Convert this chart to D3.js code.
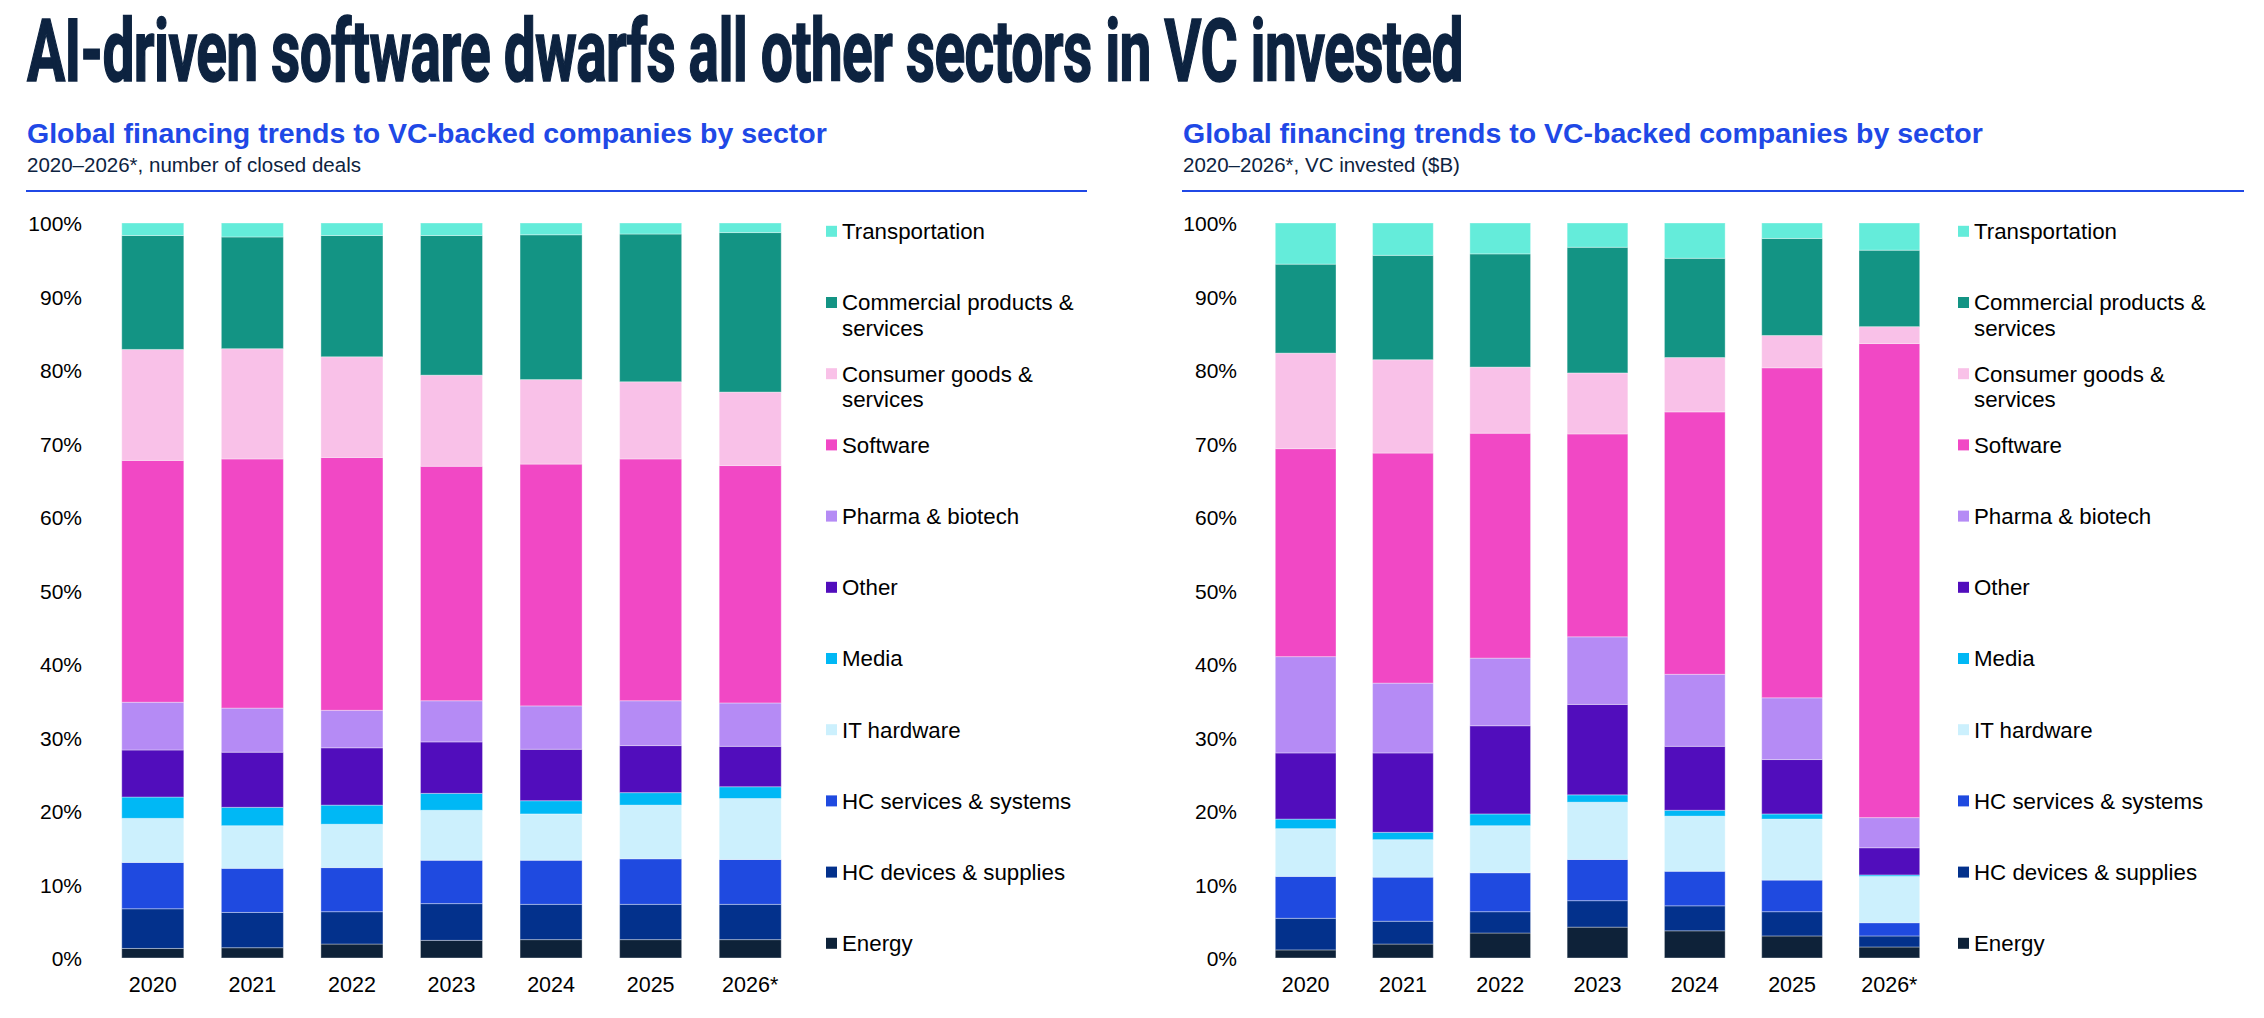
<!DOCTYPE html>
<html>
<head>
<meta charset="utf-8">
<script src="https://cdn.jsdelivr.net/npm/d3@7"></script>
<style>
  html, body { margin: 0; padding: 0; background: #fff; }
  svg { display: block; }
</style>
</head>
<body>
<svg id="chart" width="2264" height="1018"></svg>
<script>
// ---------- DATA ----------
const years = ["2020", "2021", "2022", "2023", "2024", "2025", "2026*"];
// stacking order: bottom -> top
const sectors = ["Energy", "HC devices & supplies", "HC services & systems", "IT hardware", "Media", "Other",
  "Pharma & biotech", "Software", "Consumer goods & services", "Commercial products & services", "Transportation"];
const sectorColors = ["#0e2239", "#03318c", "#1f4ae0", "#ccf0fd", "#00b8f5", "#510dbc",
  "#b58bf5", "#f148c5", "#f9c1e8", "#139484", "#64ecda"];
// legend labels, top -> bottom, split into lines
const legendLabels = [["Transportation"], ["Commercial products &", "services"], ["Consumer goods &", "services"],
  ["Software"], ["Pharma & biotech"], ["Other"], ["Media"], ["IT hardware"], ["HC services & systems"],
  ["HC devices & supplies"], ["Energy"]];
const yTicks = [0, 10, 20, 30, 40, 50, 60, 70, 80, 90, 100];

// Left chart: share of number of closed deals (%)
const dealsEnergy       = [1.3, 1.4, 1.9, 2.4, 2.5, 2.5, 2.5];
const dealsHCDevices    = [5.4, 4.8, 4.4, 5.0, 4.8, 4.8, 4.8];
const dealsHCServices   = [6.3, 6.0, 6.0, 5.9, 6.0, 6.2, 6.1];
const dealsITHardware   = [6.0, 5.8, 5.9, 6.8, 6.3, 7.3, 8.3];
const dealsMedia        = [2.9, 2.5, 2.6, 2.3, 1.8, 1.7, 1.6];
const dealsOther        = [6.4, 7.5, 7.8, 7.0, 7.0, 6.4, 5.5];
const dealsPharma       = [6.5, 6.0, 5.1, 5.6, 5.9, 6.1, 5.9];
const dealsSoftware     = [32.9, 33.9, 34.4, 31.9, 32.9, 32.9, 32.3];
const dealsConsumer     = [15.1, 15.0, 13.7, 12.4, 11.5, 10.5, 10.0];
const dealsCommercial   = [15.5, 15.2, 16.5, 19.0, 19.7, 20.1, 21.7];
const dealsTransport    = [1.7, 1.9, 1.7, 1.7, 1.6, 1.5, 1.3];

// Right chart: share of VC invested ($B) (%)
const vcEnergy          = [1.1, 1.9, 3.4, 4.2, 3.7, 3.0, 1.5];
const vcHCDevices       = [4.3, 3.1, 2.9, 3.6, 3.4, 3.3, 1.5];
const vcHCServices      = [5.7, 6.0, 5.3, 5.6, 4.7, 4.3, 1.8];
const vcITHardware      = [6.5, 5.1, 6.4, 7.8, 7.5, 8.3, 6.3];
const vcMedia           = [1.3, 1.0, 1.6, 1.0, 0.8, 0.7, 0.2];
const vcOther           = [9.0, 10.8, 12.0, 12.3, 8.7, 7.4, 3.7];
const vcPharma          = [13.1, 9.5, 9.2, 9.2, 9.8, 8.4, 4.1];
const vcSoftware        = [28.3, 31.3, 30.6, 27.6, 35.7, 44.9, 64.5];
const vcConsumer        = [13.0, 12.7, 9.0, 8.3, 7.4, 4.4, 2.3];
const vcCommercial      = [12.1, 14.2, 15.4, 17.1, 13.5, 13.2, 10.4];
const vcTransport       = [5.6, 4.4, 4.2, 3.3, 4.8, 2.1, 3.7];

const dealsSeries = [dealsEnergy, dealsHCDevices, dealsHCServices, dealsITHardware, dealsMedia, dealsOther,
  dealsPharma, dealsSoftware, dealsConsumer, dealsCommercial, dealsTransport];
const vcSeries = [vcEnergy, vcHCDevices, vcHCServices, vcITHardware, vcMedia, vcOther,
  vcPharma, vcSoftware, vcConsumer, vcCommercial, vcTransport];

// ---------- DRAW ----------
const svg = d3.select("#chart");
const navy = "#0d2340";
const blue = "#2048e6";

// Title: condensed heavy look, scaled horizontally to match the reference width
const titleG = svg.append("g");
const title = titleG.append("text")
  .attr("x", 0).attr("y", 0)
  .style("font-family", "'Liberation Sans Narrow', 'Roboto', 'Liberation Sans', sans-serif")
  .style("font-weight", 700).style("font-size", "87px").style("fill", navy)
  .style("stroke", navy).style("stroke-width", "1.6px").style("letter-spacing", "-1px")
  .text("AI-driven software dwarfs all other sectors in VC invested");
const natW = title.node().getComputedTextLength();
const targetW = 1436;
titleG.attr("transform", `translate(27,81) scale(${targetW / natW},1)`);

function buildTable(series) {
  return years.map((yr, i) => {
    const row = { year: yr };
    sectors.forEach((s, k) => { row[s] = series[k][i]; });
    return row;
  });
}

function drawPanel(opts) {
  const g = svg.append("g");
  // headings
  g.append("text").attr("x", opts.headX).attr("y", 143)
    .style("font-family", "'Liberation Sans', Arial, sans-serif").style("font-weight", 700)
    .style("font-size", "28.5px").style("fill", blue)
    .text("Global financing trends to VC-backed companies by sector");
  g.append("text").attr("x", opts.headX).attr("y", 171.5)
    .style("font-family", "'Liberation Sans', Arial, sans-serif")
    .style("font-size", "20.5px").style("fill", navy)
    .text(opts.sub);
  g.append("line").attr("x1", opts.lineX1).attr("x2", opts.lineX2)
    .attr("y1", 191).attr("y2", 191).attr("stroke", blue).attr("stroke-width", 2.2);

  const y = d3.scaleLinear().domain([0, 100]).range([958, 223]);
  const x = d3.scaleBand().domain(years).range(opts.xRange).paddingInner(opts.pad).paddingOuter(opts.pad / 2);

  const table = buildTable(opts.series);
  const stack = d3.stack().keys(sectors)(table);
  const color = d3.scaleOrdinal().domain(sectors).range(sectorColors);

  g.append("g").selectAll("g").data(stack).join("g")
    .attr("fill", d => color(d.key))
    .selectAll("rect").data(d => d).join("rect")
    .attr("x", d => x(d.data.year))
    .attr("width", x.bandwidth())
    .attr("y", d => y(d[1]))
    .attr("height", d => Math.max(0, y(d[0]) - y(d[1])))
    .attr("stroke", "rgba(255,255,255,0.35)").attr("stroke-width", 1);

  // y axis (labels only)
  const yAxis = d3.axisLeft(y).tickValues(yTicks).tickFormat(d => d + "%").tickSize(0).tickPadding(0);
  const ya = g.append("g").attr("transform", `translate(${opts.yLabelX},0)`).call(yAxis);
  ya.select(".domain").remove();
  ya.selectAll("text")
    .style("font-family", "'Liberation Sans', Arial, sans-serif").style("font-size", "21px")
    .style("fill", "#000").attr("dy", "0.36em");

  // x axis (labels only)
  const xAxis = d3.axisBottom(x).tickSize(0).tickPadding(0);
  const xa = g.append("g").attr("transform", "translate(0,977)").call(xAxis);
  xa.select(".domain").remove();
  xa.selectAll("text")
    .style("font-family", "'Liberation Sans', Arial, sans-serif").style("font-size", "21.5px")
    .style("fill", "#000").attr("dy", "0.71em");

  // legend
  const legendColors = sectorColors.slice().reverse();
  const lg = g.append("g").selectAll("g").data(legendLabels).join("g")
    .attr("transform", (d, i) => `translate(${opts.legendX},${231.3 + i * 71.2})`);
  lg.append("rect").attr("x", 0).attr("y", -5.5).attr("width", 11).attr("height", 11)
    .attr("fill", (d, i) => legendColors[i]);
  lg.each(function (d) {
    const t = d3.select(this).append("text")
      .style("font-family", "'Liberation Sans', Arial, sans-serif").style("font-size", "22.3px")
      .style("fill", "#000");
    d.forEach((line, j) => {
      t.append("tspan").attr("x", 16).attr("y", 7.8 + j * 26).text(line);
    });
  });
}

drawPanel({
  headX: 27, sub: "2020–2026*, number of closed deals", lineX1: 26, lineX2: 1087,
  xRange: [103, 800], pad: 0.377, series: dealsSeries, yLabelX: 82, legendX: 826
});
drawPanel({
  headX: 1183, sub: "2020–2026*, VC invested ($B)", lineX1: 1182, lineX2: 2244,
  xRange: [1257, 1938], pad: 0.376, series: vcSeries, yLabelX: 1237, legendX: 1958
});
</script>
</body>
</html>
